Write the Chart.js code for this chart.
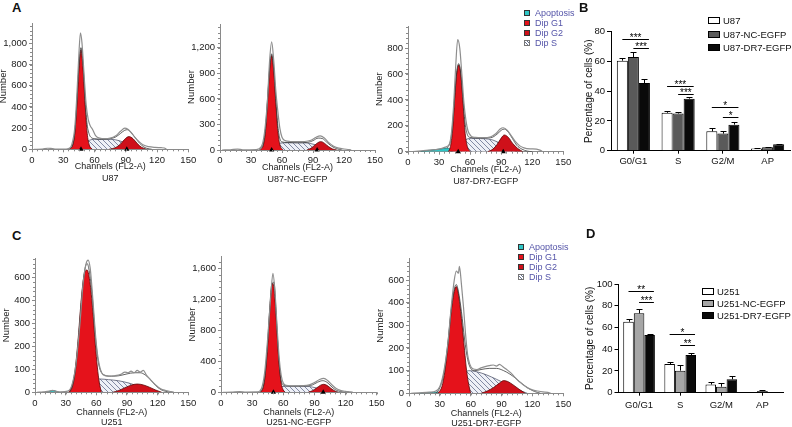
<!DOCTYPE html>
<html>
<head>
<meta charset="utf-8">
<script src="https://cdn.jsdelivr.net/npm/chart.js@4/dist/chart.umd.min.js"></script>
<style>
  body { margin: 0; width: 792px; height: 427px; position: relative; overflow: hidden; background: #fff;
         font-family: "Liberation Sans", Arial, sans-serif; }
  canvas { position: absolute; }
  .panel { position: absolute; font-weight: bold; font-size: 13px; line-height: 14px; color: #111; }
  .hrow { position: absolute; font-size: 9px; line-height: 10px; color: #5454a8; white-space: nowrap; }
  .hrow i { display: inline-block; width: 6px; height: 6px; margin-right: 5px; vertical-align: -0px;
            box-sizing: border-box; border: 1px solid #333; }
  .brow { position: absolute; font-size: 9.5px; line-height: 10px; color: #111; white-space: nowrap; }
  .brow i { display: inline-block; width: 12px; height: 7px; margin-right: 3px; vertical-align: 0px;
            box-sizing: border-box; border: 1px solid #000; }
</style>
</head>
<body>
<canvas id="a1"></canvas>
<canvas id="a2"></canvas>
<canvas id="a3"></canvas>
<canvas id="b"></canvas>
<canvas id="c1"></canvas>
<canvas id="c2"></canvas>
<canvas id="c3"></canvas>
<canvas id="d"></canvas>

<div class="panel" style="left:12px;top:1px">A</div>
<div class="panel" style="left:579px;top:1px">B</div>
<div class="panel" style="left:12px;top:229px">C</div>
<div class="panel" style="left:586px;top:227px">D</div>

<div id="legA"></div>
<div id="legC"></div>
<div id="legB"></div>
<div id="legD"></div>

<script>
// ---- flow cytometry histograms: [channel, count] ----
const u87Data = [[2,0],[10,2],[15,10],[18,8],[22,3],[30,3],[35,8],[38,40],[41,200],[43,500],[45,900],[46.5,1100],[48,1000],[50,700],[52,420],[54,280],[56,220],[58,190],[61,130],[65,105],[70,100],[75,105],[80,125],[85,170],[89,200],[92,190],[95,160],[99,110],[103,70],[107,40],[112,25],[118,18],[124,15],[127,12],[129,0]];
const u87Fit = [[35,0],[39,40],[41,150],[43,420],[45,780],[47,960],[49,800],[51,460],[53,230],[55,140],[57,110],[60,100],[65,95],[70,95],[75,100],[80,115],[85,150],[89,180],[92,185],[95,160],[99,110],[103,60],[107,25],[110,10],[115,0]];
const u87G1 = [[36,0],[39,40],[41,150],[43,420],[45,760],[47,940],[49,760],[51,420],[53,150],[55,40],[58,0]];
const u87S = [[38,0],[44,20],[50,55],[55,85],[60,95],[70,95],[80,90],[87,70],[95,35],[102,10],[107,0]];
const u87G2 = [[74,0],[80,15],[85,50],[89,95],[93,120],[97,100],[101,55],[105,20],[110,0]];
const u87Apo = [];
const u87Marks = [47, 91];

const u87ncData = [[2,0],[10,3],[17,10],[22,3],[35,5],[40,40],[43,200],[46,600],[48,1050],[50,1270],[52,1050],[54,700],[56,450],[58,250],[60,150],[63,110],[68,100],[75,98],[82,100],[88,115],[93,150],[97,165],[101,140],[105,90],[110,45],[115,22],[120,12],[125,5],[127,0]];
const u87ncFit = [[38,0],[42,80],[44,250],[46,600],[48,950],[50,1130],[52,950],[54,600],[56,280],[58,130],[60,95],[65,88],[75,85],[85,90],[90,110],[95,140],[99,135],[103,95],[108,45],[113,15],[118,0]];
const u87ncG1 = [[39,0],[42,60],[44,220],[46,560],[48,930],[50,1110],[52,930],[54,560],[56,220],[58,60],[61,0]];
const u87ncS = [[40,0],[46,25],[52,60],[58,80],[65,85],[80,85],[88,75],[95,50],[102,20],[108,0]];
const u87ncG2 = [[84,0],[88,20],[92,60],[96,95],[98,98],[101,80],[105,40],[109,12],[113,0]];
const u87ncApo = [];
const u87ncMarks = [50, 94];

const u87drData = [[2,0],[10,5],[20,12],[30,20],[36,35],[40,60],[42,150],[44,350],[46,650],[48,865],[50,800],[52,600],[54,380],[56,240],[58,160],[61,120],[65,110],[72,108],[80,115],[85,140],[89,175],[92,185],[96,165],[100,120],[104,75],[108,45],[112,30],[118,22],[124,20],[128,10],[130,0]];
const u87drFit = [[38,30],[41,80],[43,200],[45,420],[47,610],[49,680],[51,600],[53,420],[55,230],[57,140],[60,110],[70,105],[80,108],[86,135],[90,165],[93,175],[97,150],[101,100],[105,50],[110,20],[115,5],[120,0]];
const u87drG1 = [[39,0],[41,40],[43,160],[45,400],[47,600],[49,670],[51,600],[53,400],[55,160],[57,50],[60,0]];
const u87drS = [[42,0],[48,30],[54,80],[58,100],[65,102],[75,100],[82,90],[90,60],[98,25],[105,0]];
const u87drG2 = [[77,0],[82,20],[86,55],[90,105],[93,129],[97,110],[101,65],[106,25],[111,0]];
const u87drApo = [[12,0],[18,8],[25,15],[32,22],[37,28],[41,20],[44,0]];
const u87drMarks = [48.5, 92];

const u251Data = [[2,0],[8,2],[14,5],[17,8],[20,5],[25,2],[32,5],[36,30],[40,120],[44,300],[47,470],[50,560],[52,575],[54,540],[56,440],[58,320],[60,210],[62,140],[64,100],[67,75],[72,70],[78,72],[84,78],[88,88],[91,85],[94,92],[97,85],[100,95],[103,88],[106,95],[109,75],[113,55],[118,32],[123,15],[128,8],[133,3],[136,0]];
const u251Fit = [[34,0],[37,30],[40,110],[43,260],[46,430],[49,540],[51,560],[53,530],[56,420],[58,300],[60,200],[62,130],[64,95],[68,75],[75,70],[82,72],[90,80],[97,85],[103,85],[108,75],[113,55],[118,30],[123,12],[128,4],[132,0]];
const u251G1 = [[33,0],[36,25],[39,90],[42,220],[45,390],[48,510],[51,532],[54,470],[57,330],[59,210],[61,110],[63,40],[65,0]];
const u251S = [[36,0],[45,20],[55,45],[63,58],[72,55],[82,50],[92,40],[102,25],[112,10],[120,0]];
const u251G2 = [[76,0],[82,8],[88,20],[94,31],[100,36],[106,32],[112,22],[118,10],[124,0]];
const u251Apo = [[12,0],[15,6],[18,8],[21,4],[24,0]];
const u251Marks = [];

const u251ncData = [[2,0],[10,3],[18,10],[24,3],[35,5],[39,50],[42,250],[45,700],[48,1250],[50,1535],[52,1300],[54,850],[56,450],[58,220],[60,120],[63,90],[70,82],[78,85],[85,95],[90,125],[95,165],[99,180],[103,150],[107,95],[111,50],[115,25],[120,12],[125,5],[127,0]];
const u251ncFit = [[38,0],[41,100],[43,300],[45,650],[47,1100],[49,1400],[51,1420],[53,1050],[55,550],[57,230],[59,110],[62,85],[70,78],[80,80],[88,95],[93,130],[98,150],[102,130],[106,80],[110,35],[115,10],[120,0]];
const u251ncG1 = [[38,0],[41,80],[43,280],[45,620],[47,1050],[49,1380],[50,1406],[52,1200],[54,780],[56,380],[58,120],[60,30],[62,0]];
const u251ncS = [[40,0],[48,30],[55,65],[62,78],[75,80],[85,75],[92,55],[100,30],[108,10],[113,0]];
const u251ncG2 = [[84,0],[88,20],[92,55],[96,92],[99,103],[102,90],[106,50],[110,15],[113,0]];
const u251ncApo = [];
const u251ncMarks = [50.5, 98.5];

const u251drData = [[2,0],[10,2],[20,5],[26,10],[30,30],[34,100],[38,230],[41,380],[44,500],[46,540],[48,530],[49,560],[51,480],[53,380],[55,260],[57,170],[59,130],[62,108],[66,105],[70,112],[74,118],[78,122],[82,125],[85,120],[88,128],[91,118],[95,105],[99,90],[103,70],[107,52],[111,38],[115,25],[120,15],[125,10],[130,6],[135,4],[138,0]];
const u251drFit = [[26,0],[30,25],[34,90],[38,230],[41,370],[44,460],[46,480],[48,450],[51,360],[54,240],[57,150],[60,110],[64,100],[70,105],[78,110],[85,110],[92,100],[98,85],[104,65],[110,42],[116,22],[122,8],[128,0]];
const u251drG1 = [[28,0],[32,30],[35,100],[38,220],[41,360],[44,450],[46,471],[48,440],[51,330],[54,190],[56,100],[58,40],[60,0]];
const u251drS = [[28,0],[35,15],[42,40],[50,75],[58,100],[66,95],[75,82],[85,62],[95,40],[105,18],[115,0]];
const u251drG2 = [[70,0],[76,10],[82,25],[88,45],[92,56],[96,52],[101,38],[107,18],[113,0]];
const u251drApo = [[10,0],[20,3],[28,5],[32,0]];
const u251drMarks = [];

// y tick labels shown in panel C (left and right histograms)
const cTickLabels = ['0', '100', '200', '300', '400', '600'];
const histLegend = ['Apoptosis', 'Dip G1', 'Dip G2', 'Dip S'];

// ---- cell cycle bar charts ----
const phases = ['G0/G1', 'S', 'G2/M', 'AP'];
const u87Names = ['U87', 'U87-NC-EGFP', 'U87-DR7-EGFP'];
const u87Pct = [60.5, 25.5, 13, 1.5];
const u87ncPct = [63, 25, 11.5, 2.3];
const u87drPct = [45.5, 35, 17.5, 4.3];
const u87Err = [2, 1, 2.3, 0.3];
const u87ncErr = [3.5, 1, 1.6, 0.4];
const u87drErr = [2.5, 0.8, 1.8, 0.5];
// [phase, from series, to series, level, stars]
const u87Sig = [[0,0,2,74.9,'***'], [0,1,2,69.2,'***'], [1,0,2,43.5,'***'], [1,1,2,38.1,'***'], [2,0,2,29.2,'*'], [2,1,2,22.9,'*']];

const u251Names = ['U251', 'U251-NC-EGFP', 'U251-DR7-EGFP'];
const u251Pct = [65.3, 26.4, 7.5, 0.5];
const u251ncPct = [73, 20.3, 5.5, 1.5];
const u251drPct = [53, 34.7, 12.3, 0.3];
const u251Err = [2.2, 2, 2, 0.2];
const u251ncErr = [3.7, 5, 3.5, 1];
const u251drErr = [1, 1.5, 3, 0.2];
const u251Sig = [[0,0,2,93.6,'**'], [0,1,2,83.4,'***'], [1,0,2,53.7,'*'], [1,1,2,43.9,'**']];

Chart.defaults.font.family = '"Liberation Sans", Arial, sans-serif';
Chart.defaults.color = '#222';
Chart.defaults.animation = false;
Chart.defaults.plugins.legend.display = false;
Chart.defaults.plugins.tooltip.enabled = false;

const xy = pts => pts.map(p => ({x: p[0], y: p[1]}));
const G1_RED = '#e5121b';
const G2_RED = '#cf101a';

function hatchPattern() {
  const c = document.createElement('canvas');
  c.width = 5; c.height = 5;
  const g = c.getContext('2d');
  g.fillStyle = '#eef0f7';
  g.fillRect(0, 0, 5, 5);
  g.strokeStyle = '#66708e';
  g.lineWidth = 0.8;
  g.beginPath();
  g.moveTo(0, 0); g.lineTo(5, 5);
  g.moveTo(-1, 4); g.lineTo(1, 6);
  g.moveTo(4, -1); g.lineTo(6, 1);
  g.stroke();
  return g.createPattern(c, 'repeat');
}
const HATCH = hatchPattern();

// regular ticks every `step`, not stretched to the axis max
function stepTicks(step) {
  return sc => {
    const out = [];
    for (let v = 0; v <= sc.max + 1e-6; v += step) out.push({ value: v });
    sc.ticks = out;
  };
}

// small minor ticks on both axes of the histograms
const minorTicks = {
  id: 'minorTicks',
  afterDraw(chart, args, opts) {
    const {ctx} = chart;
    const x = chart.scales.x, y = chart.scales.y;
    ctx.save();
    ctx.strokeStyle = '#8a8a8a';
    ctx.lineWidth = 1;
    ctx.beginPath();
    for (let v = 0; v <= y.max + 0.01; v += opts.y) {
      const py = Math.round(y.getPixelForValue(v)) + 0.5;
      ctx.moveTo(x.left - 2, py); ctx.lineTo(x.left, py);
    }
    for (let v = 0; v <= x.max + 0.01; v += opts.x) {
      const px = Math.round(x.getPixelForValue(v)) + 0.5;
      ctx.moveTo(px, y.bottom); ctx.lineTo(px, y.bottom + 2);
    }
    ctx.stroke();
    ctx.restore();
  }
};

function histogram(id, box, yMax, yStep, yLabels, sample, lh, s) {
  const [L, T, R, B] = box;
  const left = Math.round(L - 34), top = Math.round(T - 8);
  const w = Math.round(R + 14) - left, h = Math.round(B + 36) - top;
  const cv = document.getElementById(id);
  cv.width = w; cv.height = h;
  cv.style.left = left + 'px'; cv.style.top = top + 'px';
  const xH = top + h - B;

  const line = (pts, color, width, tension) => ({
    data: xy(pts), borderColor: color, borderWidth: width, pointRadius: 0,
    tension, cubicInterpolationMode: 'monotone', fill: false
  });
  const area = (pts, bg, border) => ({
    data: xy(pts), backgroundColor: bg, borderColor: border, borderWidth: 0.8, pointRadius: 0,
    tension: 0.4, cubicInterpolationMode: 'monotone', fill: 'origin'
  });

  new Chart(cv, {
    type: 'line',
    data: {
      datasets: [
        { data: s.marks.map(m => ({x: m, y: 0})), showLine: false, pointStyle: 'triangle',
          pointRadius: 3, pointBackgroundColor: '#000', pointBorderWidth: 0, clip: false },
        line(s.data, '#8e8e8e', 1.2, 0.2),
        line(s.fit, '#3a3a3a', 0.8, 0.4),
        area(s.g1, G1_RED, '#5a0808'),
        area(s.g2, G2_RED, '#5a0808'),
        area(s.s, HATCH, '#555b70'),
        area(s.apo, '#2fc6c6', '#1d6f6f')
      ]
    },
    options: {
      responsive: false,
      layout: { padding: { left: 0, top: T - top, right: left + w - R, bottom: 0 } },
      scales: {
        x: {
          type: 'linear', min: 0, max: 150,
          ticks: { padding: 2, font: { size: 9.5 }, color: '#222' },
          afterBuildTicks: stepTicks(30),
          grid: { drawOnChartArea: false, tickLength: 3, color: '#8a8a8a' },
          border: { color: '#8a8a8a' },
          title: { display: true, text: ['Channels (FL2-A)', sample], padding: 0,
                   font: { size: 9, lineHeight: lh }, color: '#222' },
          afterFit(sc) { sc.height = xH; }
        },
        y: {
          min: 0, max: yMax,
          ticks: { padding: 2, font: { size: 9.5 }, color: '#222',
                   callback: yLabels ? (v, i) => yLabels[i] : v => v.toLocaleString('en-US') },
          afterBuildTicks: stepTicks(yStep),
          grid: { drawOnChartArea: false, tickLength: 3, color: '#8a8a8a' },
          border: { color: '#8a8a8a' },
          title: { display: true, text: 'Number', padding: 0, font: { size: 9.5 }, color: '#222' },
          afterFit(sc) { sc.width = 34; }
        }
      },
      plugins: { minorTicks: { x: 5, y: yStep / 5 } }
    },
    plugins: [minorTicks]
  });
}

// error bars and significance brackets on the bar charts
const barExtras = {
  id: 'barExtras',
  afterDatasetsDraw(chart, args, opts) {
    const {ctx} = chart;
    const y = chart.scales.y;
    ctx.save();
    ctx.strokeStyle = '#000';
    ctx.fillStyle = '#000';
    ctx.lineWidth = 1;
    opts.errors.forEach((errs, d) => {
      chart.getDatasetMeta(d).data.forEach((bar, i) => {
        const v = chart.data.datasets[d].data[i];
        const py = Math.round(y.getPixelForValue(v + errs[i])) + 0.5;
        const bx = Math.round(bar.x) + 0.5;
        ctx.beginPath();
        ctx.moveTo(bx, bar.y); ctx.lineTo(bx, py);
        ctx.moveTo(bx - 3, py); ctx.lineTo(bx + 3, py);
        ctx.stroke();
      });
    });
    ctx.font = '10px "Liberation Sans", Arial, sans-serif';
    ctx.textAlign = 'center';
    ctx.textBaseline = 'alphabetic';
    opts.sig.forEach(([cat, a, b, v, t]) => {
      const ba = chart.getDatasetMeta(a).data[cat];
      const bb = chart.getDatasetMeta(b).data[cat];
      const py = Math.round(y.getPixelForValue(v)) + 0.5;
      const x1 = ba.x, x2 = bb.x + bb.width / 2 - 1;
      ctx.beginPath();
      ctx.moveTo(x1, py); ctx.lineTo(x2, py);
      ctx.stroke();
      ctx.fillText(t, (x1 + x2) / 2, py + 1);
    });
    ctx.restore();
  }
};

function barChart(id, box, yW, xH, tickPad, yMax, series, colors, errors, sig, catPct) {
  const [L, T, R, B] = box;
  const left = Math.round(L - yW), top = Math.round(T - 8);
  const w = 792 - left, h = Math.round(B + xH) - top;
  const cv = document.getElementById(id);
  cv.width = w; cv.height = h;
  cv.style.left = left + 'px'; cv.style.top = top + 'px';

  new Chart(cv, {
    type: 'bar',
    data: {
      labels: phases,
      datasets: series.map((vals, i) => ({
        data: vals, backgroundColor: colors[i], borderColor: '#000', borderWidth: 1,
        categoryPercentage: catPct, barPercentage: 1
      }))
    },
    options: {
      responsive: false,
      layout: { padding: { left: 0, top: T - top, right: left + w - R, bottom: 0 } },
      scales: {
        x: {
          ticks: { padding: tickPad, font: { size: 9.5 }, color: '#111' },
          grid: { offset: false, drawOnChartArea: false, tickLength: 3, color: '#000' },
          border: { color: '#000' },
          afterFit(sc) { sc.height = top + h - B; }
        },
        y: {
          min: 0, max: yMax,
          ticks: { padding: 2, font: { size: 9.5 }, color: '#111' },
          afterBuildTicks: stepTicks(20),
          grid: { drawOnChartArea: false, tickLength: 4, color: '#000' },
          border: { color: '#000' },
          title: { display: true, text: 'Percentage of cells (%)', padding: 0, font: { size: 10 }, color: '#111' },
          afterFit(sc) { sc.width = L - left; }
        }
      },
      plugins: { barExtras: { errors, sig } }
    },
    plugins: [barExtras]
  });
}

histogram('a1', [32.3, 23.3, 188.3, 149.3], 1190, 200, null, 'U87', 12 / 9,
  { data: u87Data, fit: u87Fit, g1: u87G1, s: u87S, g2: u87G2, apo: u87Apo, marks: u87Marks });
histogram('a2', [220, 24, 375, 150], 1480, 300, null, 'U87-NC-EGFP', 12 / 9,
  { data: u87ncData, fit: u87ncFit, g1: u87ncG1, s: u87ncS, g2: u87ncG2, apo: u87ncApo, marks: u87ncMarks });
histogram('a3', [408.3, 26.7, 563.3, 151.7], 965, 200, null, 'U87-DR7-EGFP', 12 / 9,
  { data: u87drData, fit: u87drFit, g1: u87drG1, s: u87drS, g2: u87drG2, apo: u87drApo, marks: u87drMarks });
histogram('c1', [35, 258.3, 188.3, 392.3], 583, 100, cTickLabels, 'U251', 10 / 9,
  { data: u251Data, fit: u251Fit, g1: u251G1, s: u251S, g2: u251G2, apo: u251Apo, marks: u251Marks });
histogram('c2', [221, 256.7, 376.7, 392.3], 1750, 400, null, 'U251-NC-EGFP', 10 / 9,
  { data: u251ncData, fit: u251ncFit, g1: u251ncG1, s: u251ncS, g2: u251ncG2, apo: u251ncApo, marks: u251ncMarks });
histogram('c3', [409, 258.3, 563.3, 393.3], 596, 100, cTickLabels, 'U251-DR7-EGFP', 10 / 9,
  { data: u251drData, fit: u251drFit, g1: u251drG1, s: u251drS, g2: u251drG2, apo: u251drApo, marks: u251drMarks });

barChart('b', [611, 31.7, 790, 150.7], 28, 20, 2, 80,
  [u87Pct, u87ncPct, u87drPct], ['#ffffff', '#5a5a5a', '#0a0a0a'],
  [u87Err, u87ncErr, u87drErr], u87Sig, 0.74);
barChart('d', [618.5, 284, 783, 392.7], 34.5, 22, 4, 100,
  [u251Pct, u251ncPct, u251drPct], ['#ffffff', '#a6a6a6', '#0a0a0a'],
  [u251Err, u251ncErr, u251drErr], u251Sig, 0.77);

// legends
const histSwatch = ['background:#2fc6c6', 'background:' + G1_RED, 'background:' + G2_RED,
  'background:repeating-linear-gradient(45deg,#fff 0 1.5px,#66708e 1.5px 2.3px);border-color:#777'];
function histLegendAt(elId, boxX, y0) {
  const el = document.getElementById(elId);
  histLegend.forEach((name, i) => {
    const row = document.createElement('div');
    row.className = 'hrow';
    row.style.left = boxX + 'px';
    row.style.top = (y0 + i * 10 - 5) + 'px';
    row.innerHTML = '<i style="' + histSwatch[i] + '"></i>' + name;
    el.appendChild(row);
  });
}
histLegendAt('legA', 524, 13.3);
histLegendAt('legC', 518, 246.7);

function barLegendAt(elId, names, colors, boxX, y0, dy) {
  const el = document.getElementById(elId);
  names.forEach((name, i) => {
    const row = document.createElement('div');
    row.className = 'brow';
    row.style.left = boxX + 'px';
    row.style.top = (y0 + i * dy - 5) + 'px';
    row.innerHTML = '<i style="background:' + colors[i] + '"></i>' + name;
    el.appendChild(row);
  });
}
barLegendAt('legB', u87Names, ['#ffffff', '#5a5a5a', '#0a0a0a'], 708, 21, 13.5);
barLegendAt('legD', u251Names, ['#ffffff', '#a6a6a6', '#0a0a0a'], 702, 292, 12);
</script>
</body>
</html>
